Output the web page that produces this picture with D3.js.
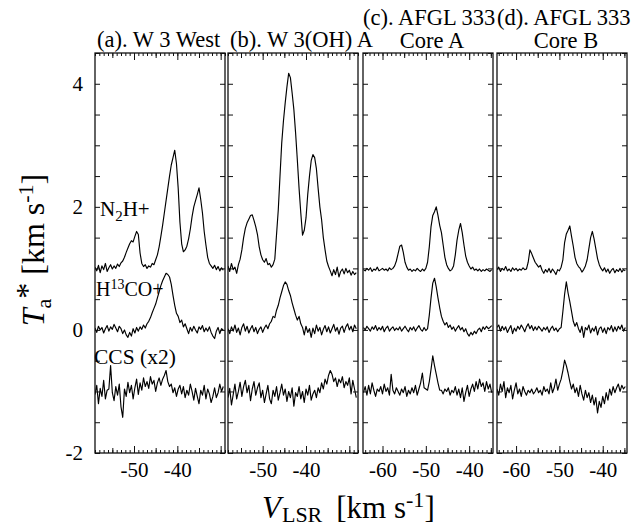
<!DOCTYPE html>
<html lang="en">
<head>
<meta charset="UTF-8">
<title>W 3 / AFGL 333 spectra</title>
<script src="https://d3js.org/d3.v7.min.js"></script>
<style>
    body { margin: 0; background: #fff; }
    svg text { font-family: "Liberation Serif", "Times New Roman", serif; fill: #000; }
    .frame { fill: none; stroke: #111; stroke-width: 1.3px; }
    .spec { fill: none; stroke: #000; stroke-width: 1.15px; stroke-linejoin: round; }
    .tick line { stroke: #111; stroke-width: 1px; }
</style>
</head>
<body>
<svg width="637" height="528"></svg>
<script>
// ---- data ----
const panelTitles = [["(a). W 3 West"], ["(b). W 3(OH) A"], ["(c). AFGL 333", "Core A"], ["(d). AFGL 333", "Core B"]];
const vDomains = [[-59, -29], [-58, -28], [-64.5, -34.5], [-64.4, -34.4]];
const vStart = [-59, -58, -64.4, -64.4];   // first channel velocity
const vStep = 0.4;                          // channel width, km/s
const xTickLabels = [[-50, -40], [-50, -40], [-60, -50, -40], [-60, -50, -40]];
const yTickLabels = [4, 2, 0, -2];

// panel (a) W 3 West
const n2hA = [1.02,0.96,1.05,0.93,1.04,0.98,1.08,0.95,1.01,1.06, 0.99,1.04,1.00,1.07,1.03,1.09,1.12,1.18,1.26,1.33,
    1.40,1.45,1.43,1.52,1.60,1.55,1.25,1.08,1.03,1.06, 1.00,1.04,1.02,1.08,1.06,1.14,1.22,1.35,1.52,1.70,
    1.90,2.10,2.30,2.50,2.68,2.80,2.92,2.70,2.30,1.75, 1.40,1.27,1.30,1.36,1.48,1.64,1.84,2.00,2.10,2.20,
    2.31,2.12,1.90,1.60,1.38,1.18,1.08,1.04,1.00,1.05, 0.98,1.03,0.96,1.01,0.97];
const h13coA = [0.03,-0.04,0.06,0.00,0.04,-0.05,0.02,0.07,-0.02,0.05, 0.01,0.09,0.03,-0.03,0.06,0.02,-0.06,0.00,-0.08,-0.12,
    -0.04,-0.10,0.02,-0.05,0.04,-0.02,0.05,0.01,0.08,0.03, 0.10,0.14,0.20,0.28,0.35,0.42,0.52,0.62,0.72,0.80,
    0.86,0.92,0.90,0.86,0.74,0.56,0.40,0.27,0.22,0.12, 0.16,0.05,0.10,0.02,-0.06,0.04,-0.02,0.06,0.00,-0.05,
    0.05,0.01,0.07,-0.03,0.03,-0.02,0.05,-0.04,-0.10,-0.14, -0.02,0.04,-0.06,0.02,0.00];
const ccsA = [-1.05,-0.90,-1.20,-0.95,-1.08,-0.82,-1.12,-0.98,-0.96,-0.58, -1.02,-1.15,-0.92,-1.06,-0.88,-1.25,-1.42,-0.96,-1.08,-0.85,
    -1.02,-0.90,-1.12,-0.94,-0.80,-1.05,-0.86,-0.98,-0.78,-0.92, -0.84,-0.95,-0.76,-0.88,-0.82,-1.00,-0.86,-0.78,-0.90,-0.80,
    -0.74,-0.66,-0.84,-0.92,-0.88,-1.02,-0.94,-1.08,-0.96,-0.90, -1.04,-0.92,-1.10,-0.98,-1.06,-0.88,-1.00,-1.14,-0.95,-1.08,
    -1.20,-0.98,-1.06,-0.90,-1.12,-0.96,-1.04,-1.18,-1.08,-0.94, -1.10,-1.02,-0.88,-1.00,-0.92];

// panel (b) W 3(OH) A
const n2hB = [1.04,0.95,1.08,0.98,1.02,0.92,1.06,1.15,1.30,1.50, 1.65,1.74,1.80,1.86,1.87,1.78,1.68,1.55,1.35,1.22,
    1.14,1.10,1.16,1.06,1.08,1.02,1.06,1.15,1.55,1.95, 2.50,3.04,3.40,3.69,3.95,4.17,4.10,3.85,3.58,3.20,
    2.76,2.30,1.90,1.54,1.62,1.82,2.20,2.50,2.75,2.85, 2.80,2.62,2.30,2.00,1.79,1.50,1.30,1.12,1.03,0.96,
    0.88,0.98,0.90,1.02,0.86,0.95,0.99,0.91,1.00,0.93, 0.97,0.89,0.95,0.90,0.93];
const h13coB = [0.02,-0.06,0.05,-0.02,0.08,-0.04,0.03,-0.08,0.04,0.10, -0.02,0.06,-0.05,0.02,0.07,-0.03,0.04,-0.06,0.01,0.05,
    -0.04,0.03,0.08,0.02,0.10,0.14,0.22,0.20,0.32,0.40, 0.52,0.62,0.72,0.78,0.74,0.64,0.56,0.44,0.34,0.24,
    0.16,0.22,0.10,0.04,-0.08,0.06,-0.04,0.02,-0.12,0.03, -0.06,0.08,-0.02,0.04,-0.08,0.01,0.07,-0.03,0.05,-0.05,
    0.02,0.09,-0.02,0.04,-0.07,0.03,0.06,-0.04,0.05,0.10, 0.00,0.06,-0.03,0.08,0.02];
const ccsB = [-1.10,-0.95,-1.22,-1.05,-0.88,-1.12,-1.00,-0.85,-1.08,-0.92, -0.82,-1.02,-0.90,-1.15,-0.96,-0.84,-1.06,-0.94,-0.86,-1.10,
    -0.98,-1.18,-1.04,-0.90,-1.12,-1.20,-0.98,-1.08,-0.92,-1.14, -1.02,-0.88,-1.06,-0.96,-1.16,-1.00,-1.10,-0.94,-1.24,-1.02,
    -1.08,-0.92,-1.12,-1.00,-1.18,-0.96,-1.06,-0.90,-1.14,-1.04, -0.98,-1.10,-0.94,-1.02,-0.86,-0.96,-0.80,-0.88,-0.74,-0.66,
    -0.72,-0.84,-0.78,-0.92,-0.80,-0.86,-0.76,-0.94,-0.84,-0.90, -0.78,-1.04,-0.82,-0.96,-1.10];

// panel (c) AFGL 333 Core A
const n2hC = [0.98,0.96,1.00,0.97,1.01,0.95,0.99,0.97,1.02,0.96, 0.98,1.00,0.97,0.99,0.96,1.01,0.98,1.00,1.04,1.12,
    1.24,1.36,1.38,1.26,1.10,1.02,0.97,0.99,0.95,0.98, 0.96,1.00,0.97,0.95,0.99,0.96,1.00,1.10,1.35,1.68,
    1.86,1.92,2.00,1.86,1.70,1.58,1.38,1.18,1.06,1.00, 0.96,0.98,1.04,1.22,1.46,1.62,1.73,1.58,1.38,1.20,
    1.10,1.04,0.99,1.02,0.97,0.99,0.96,0.99,0.95,0.98, 0.96,0.99,0.97,0.95,0.98];
const h13coC = [0.04,0.00,0.06,0.02,-0.02,0.05,0.01,0.07,-0.01,0.04, 0.00,0.06,-0.03,0.03,0.06,-0.02,0.02,0.05,-0.01,0.03,
    0.00,0.05,-0.02,0.02,0.06,0.01,-0.03,0.04,0.00,0.05, -0.02,0.03,0.07,0.01,-0.02,0.04,-0.01,0.02,0.24,0.52,
    0.76,0.84,0.70,0.52,0.36,0.22,0.14,0.08,0.12,0.04, 0.08,0.01,0.05,-0.02,0.03,0.07,0.00,0.04,-0.03,0.02,
    -0.06,-0.10,-0.04,-0.08,-0.02,-0.06,0.00,0.03,-0.03,0.05, 0.01,0.06,0.02,0.04,0.07];
const ccsC = [-1.02,-0.92,-1.06,-0.90,-1.04,-0.86,-0.98,-1.08,-0.96,-1.00, -0.92,-1.04,-0.88,-1.00,-0.94,-1.06,-0.72,-0.98,-1.04,-0.94,
    -1.00,-1.06,-0.96,-1.02,-0.92,-1.08,-0.98,-1.04,-0.94,-1.02, -0.90,-1.06,-0.96,-0.86,-0.70,-0.94,-0.96,-0.98,-0.84,-0.64,
    -0.42,-0.58,-0.72,-0.86,-0.98,-0.98,-1.04,-0.96,-1.00,-0.94, -1.06,-0.98,-1.02,-0.92,-1.06,-0.96,-1.10,-0.94,-1.16,-1.02,
    -0.90,-1.08,-0.96,-0.88,-1.00,-0.84,-0.96,-0.80,-0.92,-0.86, -1.00,-0.84,-0.96,-0.88,-1.02];

// panel (d) AFGL 333 Core B
const n2hD = [0.98,1.02,0.95,1.00,0.97,1.03,0.96,0.99,0.95,1.01, 0.97,1.00,0.96,0.99,0.97,1.01,0.98,0.99,1.10,1.30,
    1.24,1.17,1.10,1.06,1.02,1.05,0.97,0.92,0.98,0.94, 1.00,0.93,0.99,0.95,0.90,0.98,0.96,1.02,1.14,1.42,
    1.56,1.62,1.69,1.52,1.36,1.18,1.08,1.03,1.00,0.94, 0.98,1.04,1.14,1.32,1.50,1.60,1.48,1.32,1.16,1.06,
    1.00,0.96,1.01,0.94,0.99,0.92,0.97,1.00,0.93,0.98, 0.95,1.00,0.94,0.98,0.96];
const h13coD = [0.04,0.08,-0.02,0.06,0.00,0.05,-0.04,0.02,0.07,-0.06, 0.03,-0.02,0.06,0.01,0.08,0.03,-0.03,0.05,0.10,0.02,
    0.07,-0.01,0.05,0.00,0.06,0.02,-0.02,0.04,0.00,0.05, -0.04,0.02,0.06,-0.01,0.03,-0.03,0.02,0.04,0.30,0.58,
    0.78,0.60,0.46,0.30,0.14,0.06,0.12,0.02,-0.04,0.06, -0.12,0.04,0.00,0.08,-0.05,0.03,-0.02,0.06,-0.08,0.02,
    0.05,-0.04,0.03,-0.06,0.04,0.00,0.07,-0.03,0.05,-0.02, 0.06,0.01,0.08,-0.02,0.04];
const ccsD = [-0.96,-1.06,-0.88,-1.00,-0.84,-1.10,-0.94,-1.02,-0.90,-1.12, -0.98,-0.86,-1.04,-0.96,-1.08,-0.92,-1.00,-1.06,-0.98,-1.02,
    -0.96,-1.04,-1.00,-0.94,-1.02,-0.98,-1.06,-0.92,-1.00,-0.96, -1.04,-0.86,-1.02,-0.94,-0.80,-0.98,-0.88,-0.80,-0.66,-0.49,
    -0.58,-0.70,-0.84,-0.96,-0.88,-1.02,-0.94,-1.08,-0.90,-1.04, -1.14,-0.98,-1.10,-1.02,-1.18,-1.06,-1.22,-1.10,-1.35,-1.16,
    -1.26,-1.08,-1.20,-1.02,-1.14,-0.96,-1.06,-0.92,-1.02,-0.94, -0.88,-1.00,-0.90,-0.96,-0.92];

const spectra = [[n2hA, h13coA, ccsA], [n2hB, h13coB, ccsB], [n2hC, h13coC, ccsC], [n2hD, h13coD, ccsD]];

// ---- layout ----
const width = 637, height = 528;
const panelX = [95, 228, 363, 497];
const panelW = 130;
const plotTop = 53, plotBottom = 453;
const serif = "Liberation Serif, Times New Roman, serif";

const svg = d3.select("svg").attr("width", width).attr("height", height);

const yScale = d3.scaleLinear().domain([-2, 4.5]).range([plotBottom, plotTop]);
const yMinor = d3.range(-2, 4.51, 0.5);

const line = (x) => d3.line()
    .x(d => x(d.v))
    .y(d => yScale(d.t));

panelX.forEach((px, k) => {
    const x = d3.scaleLinear().domain(vDomains[k]).range([px, px + panelW]);
    const g = svg.append("g");

    // clip spectra to the panel box
    g.append("clipPath").attr("id", "clip" + k)
        .append("rect").attr("x", px).attr("y", plotTop).attr("width", panelW).attr("height", plotBottom - plotTop);

    const spec = g.append("g").attr("clip-path", `url(#clip${k})`);
    spectra[k].forEach(vals => {
        const pts = vals.map((t, i) => ({v: vStart[k] + i * vStep, t}));
        spec.append("path").attr("class", "spec").attr("d", line(x)(pts));
    });

    // x ticks, inside, top and bottom
    const [lo, hi] = vDomains[k];
    const all = d3.range(Math.ceil(lo), Math.floor(hi) + 1);
    const fives = all.filter(v => v % 5 === 0 && v % 10 !== 0);
    const tens = all.filter(v => v % 10 === 0);
    [[all, 3], [fives, 5], [tens, 7]].forEach(([vals, len]) => {
        g.append("g").attr("transform", `translate(0,${plotBottom})`)
            .call(d3.axisBottom(x).tickValues(vals).tickSize(-len).tickFormat(""))
            .call(a => a.select(".domain").remove());
        g.append("g").attr("transform", `translate(0,${plotTop})`)
            .call(d3.axisTop(x).tickValues(vals).tickSize(-len).tickFormat(""))
            .call(a => a.select(".domain").remove());
    });

    // x tick labels
    g.append("g").attr("transform", `translate(0,${plotBottom})`)
        .call(d3.axisBottom(x).tickValues(xTickLabels[k]).tickSize(0).tickPadding(9).tickFormat(d => String(d)))
        .attr("font-family", serif).attr("font-size", 21)
        .call(a => a.select(".domain").remove());

    // y ticks, inside, both sides
    g.append("g").attr("transform", `translate(${px},0)`)
        .call(d3.axisLeft(yScale).tickValues(yMinor).tickSize(-5).tickFormat(""))
        .call(a => a.select(".domain").remove());
    g.append("g").attr("transform", `translate(${px + panelW},0)`)
        .call(d3.axisRight(yScale).tickValues(yMinor).tickSize(-5).tickFormat(""))
        .call(a => a.select(".domain").remove());

    g.append("rect").attr("class", "frame")
        .attr("x", px).attr("y", plotTop).attr("width", panelW).attr("height", plotBottom - plotTop);

    // titles
    const t = panelTitles[k];
    if (t.length === 1) {
        svg.append("text").attr("x", px + 2).attr("y", 47).style("font-size", "22.5px").text(t[0]);
    } else {
        svg.append("text").attr("x", px).attr("y", 25).style("font-size", "22.5px").text(t[0]);
        svg.append("text").attr("x", px + panelW / 2 + 4).attr("y", 48)
            .attr("text-anchor", "middle").style("font-size", "22.5px").text(t[1]);
    }
});

// y tick labels (left of panel a only)
svg.append("g").attr("transform", `translate(${panelX[0]},0)`)
    .call(d3.axisLeft(yScale).tickValues(yTickLabels).tickSize(0).tickPadding(12).tickFormat(d => String(d)))
    .attr("font-family", serif).attr("font-size", 21)
    .call(a => a.select(".domain").remove());

// species labels in panel a
const n2hLabel = svg.append("text").attr("x", 100).attr("y", 216).style("font-size", "21px");
n2hLabel.append("tspan").text("N");
n2hLabel.append("tspan").attr("dy", 5).style("font-size", "15px").text("2");
n2hLabel.append("tspan").attr("dy", -5).text("H+");

const h13Label = svg.append("text").attr("x", 96).attr("y", 296).style("font-size", "20px");
h13Label.append("tspan").text("H");
h13Label.append("tspan").attr("dy", -7).style("font-size", "14px").text("13");
h13Label.append("tspan").attr("dy", 7).text("CO+");

svg.append("text").attr("x", 94).attr("y", 364).style("font-size", "21.5px").text("CCS (x2)");

// axis titles
const yTitle = svg.append("text")
    .attr("transform", "translate(44,250) rotate(-90)")
    .attr("text-anchor", "middle").style("font-size", "32px");
yTitle.append("tspan").style("font-style", "italic").text("T");
yTitle.append("tspan").attr("dy", 7).style("font-size", "22px").text("a");
yTitle.append("tspan").attr("dy", -13).text("*");
yTitle.append("tspan").attr("dy", 6).text(" [km s");
yTitle.append("tspan").attr("dy", -11).style("font-size", "22px").text("-1");
yTitle.append("tspan").attr("dy", 11).text("]");

const xTitle = svg.append("text")
    .attr("x", 262).attr("y", 518)
    .style("font-size", "31px");
xTitle.append("tspan").style("font-style", "italic").text("V");
xTitle.append("tspan").attr("dy", 4).attr("dx", 1).style("font-size", "22px").text("LSR");
xTitle.append("tspan").attr("dy", -4).attr("dx", 14).text("[km s");
xTitle.append("tspan").attr("dy", -11).style("font-size", "22px").text("-1");
xTitle.append("tspan").attr("dy", 11).text("]");
</script>
</body>
</html>
